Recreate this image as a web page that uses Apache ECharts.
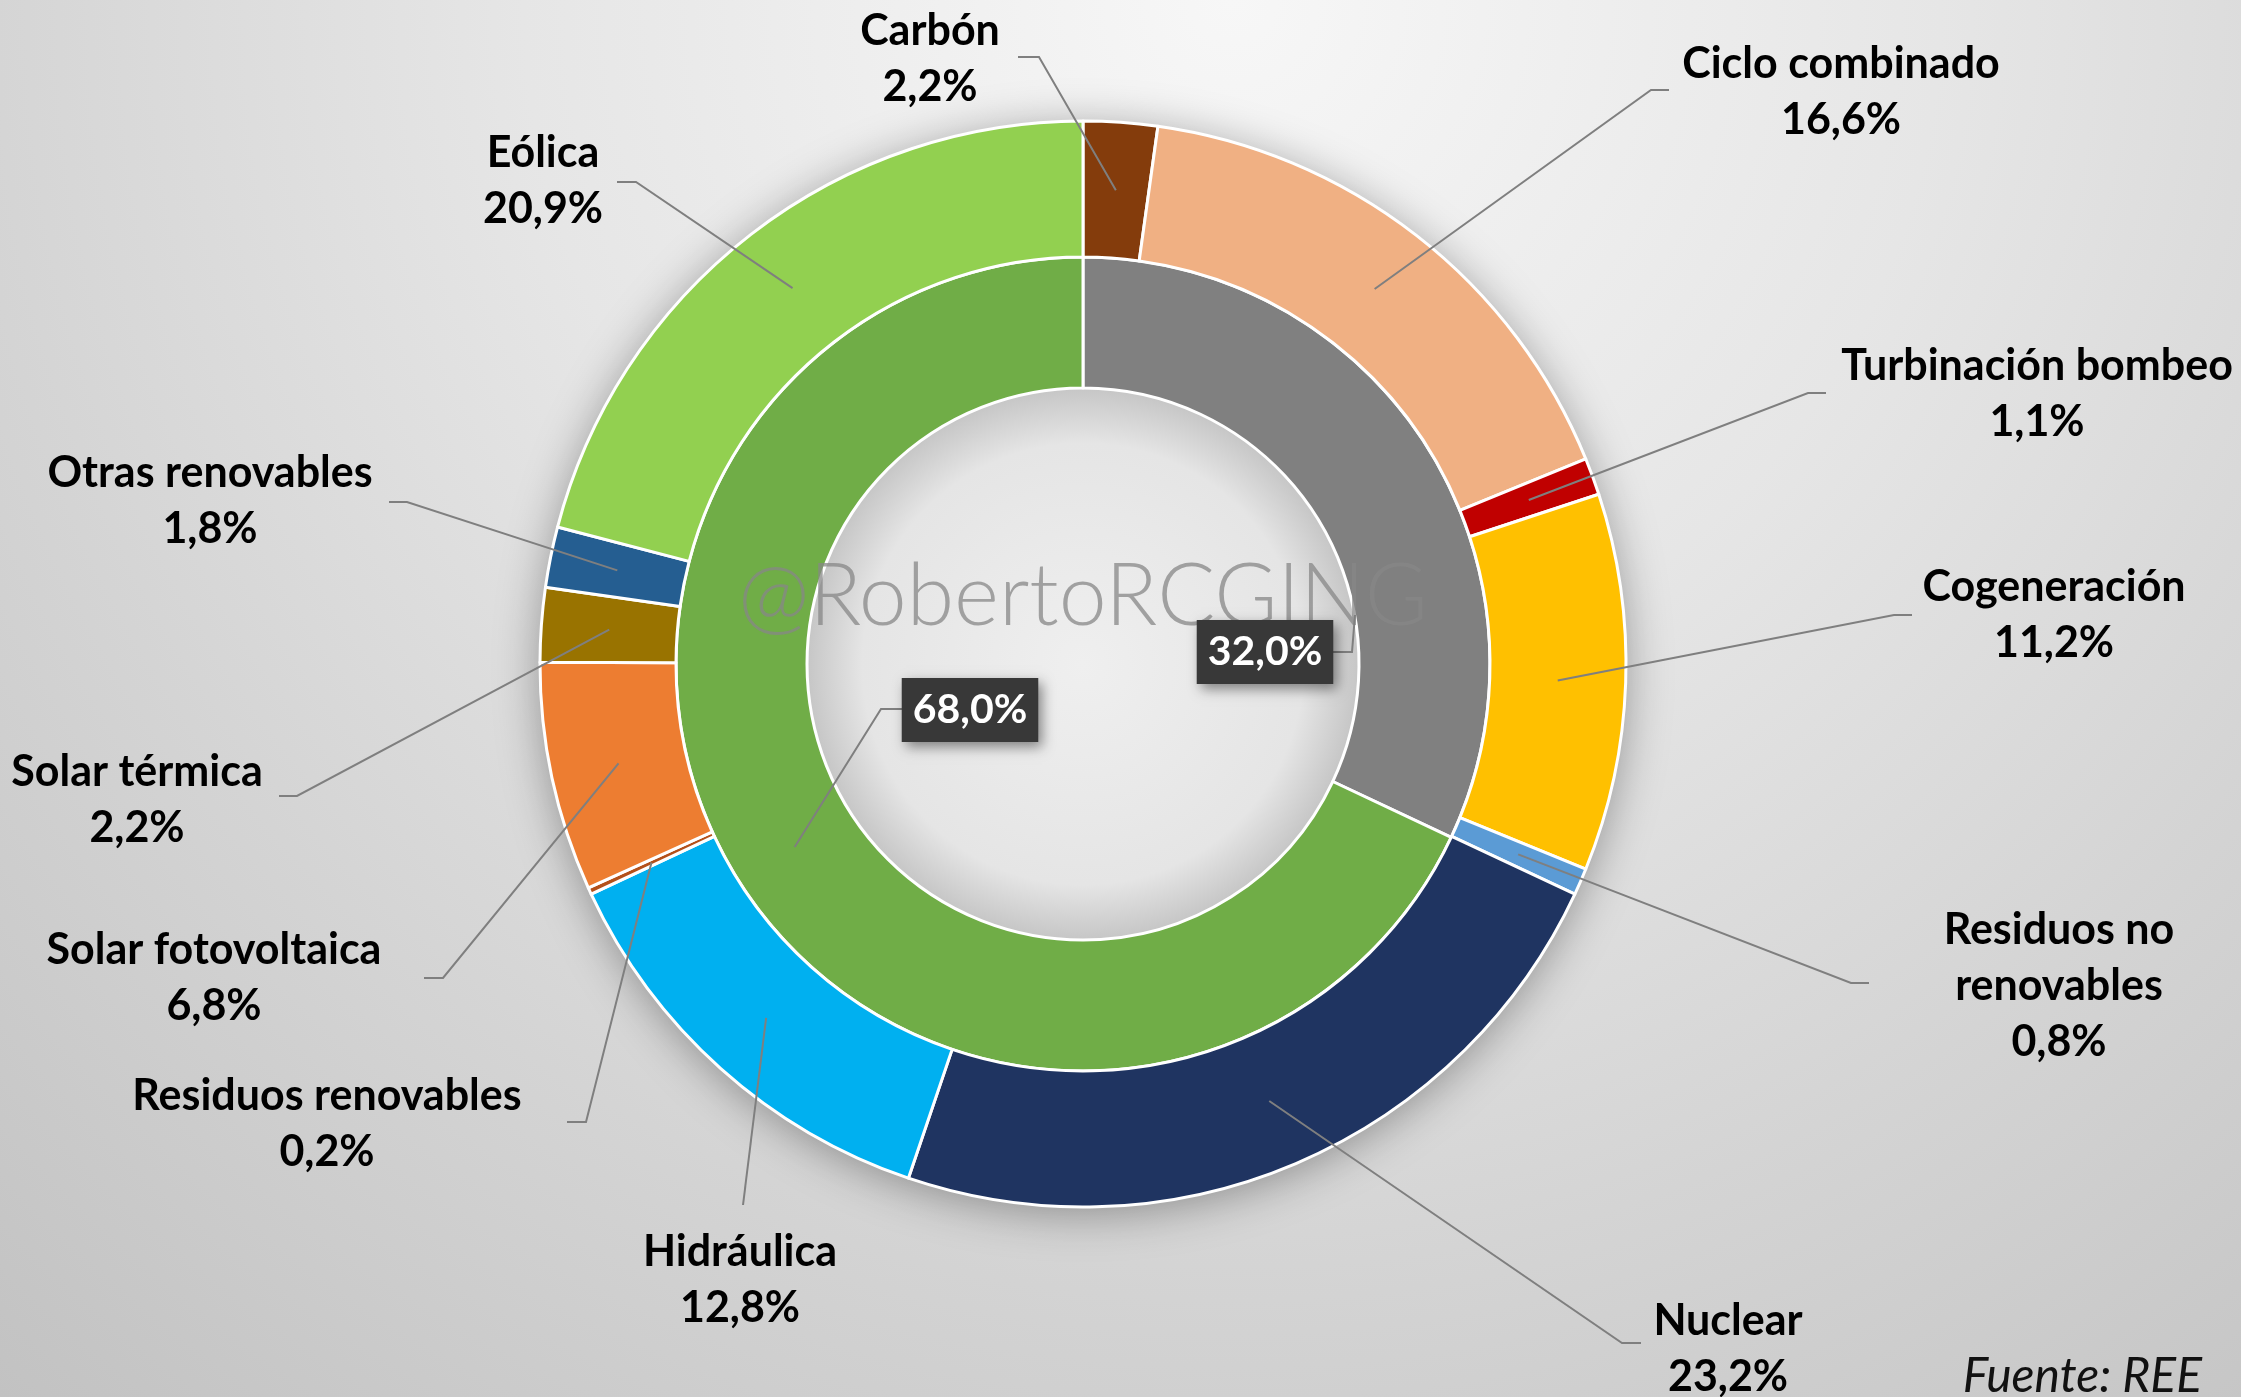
<!DOCTYPE html>
<html>
<head>
<meta charset="utf-8">
<script src="https://cdn.jsdelivr.net/npm/echarts@6/dist/echarts.min.js"></script>
<style>
    html, body { margin: 0; padding: 0; }
    body {
        width: 2241px; height: 1397px; overflow: hidden;
        background: radial-gradient(circle at 55% 0%, #f7f7f7 0%, #e6e6e6 38%, #d4d4d4 68%, #c2c2c2 100%);
    }
    #main { width: 2241px; height: 1397px; }
</style>
</head>
<body>
<div id="main"></div>
<script>
// datos (% generación)
var fuentes = ['Carbón', 'Ciclo combinado', 'Turbinación bombeo', 'Cogeneración', 'Residuos no renovables',
    'Nuclear', 'Hidráulica', 'Residuos renovables', 'Solar fotovoltaica', 'Solar térmica', 'Otras renovables', 'Eólica'];
var porcentajes = [2.2, 16.6, 1.1, 11.2, 0.8, 23.2, 12.8, 0.2, 6.8, 2.2, 1.8, 20.9];
var grupos = ['Emisora de CO2', 'Libre de CO2'];
var gruposPct = [32.0, 68.0];

var colores = ['#843c0c', '#f0b083', '#c00000', '#ffc000', '#5b9bd5', '#1f3461',
    '#00b0f0', '#b4501a', '#ed7d31', '#997300', '#255e91', '#92d050'];
var gruposColores = ['#808080', '#70ad47'];

// geometria
var cx = 1083, cy = 664;
var rHole = 276, rMid = 407, rOut = 543;

// centro de cada etiqueta y puntos de la guia (despues del punto en el sector)
var posEtiquetas = [[930, 59], [1841, 92], [2037, 394], [2054, 615], [2059, 986], [1728, 1349],
    [740, 1280], [327, 1124], [214, 978], [137, 800], [210, 501], [543, 181]];
var guias = [
    [[1039, 57], [1018, 57]],
    [[1651, 90], [1669, 90]],
    [[1808, 393], [1826, 393]],
    [[1894, 615], [1912, 615]],
    [[1851, 983], [1869, 983]],
    [[1622, 1343], [1641, 1343]],
    [[743, 1205]],
    [[586, 1122], [567, 1122]],
    [[443, 978], [424, 978]],
    [[297, 796], [279, 796]],
    [[407, 502], [389, 502]],
    [[636, 182], [617, 182]]
];
var posGrupos = [[1265, 652], [970, 710]];
var guiasGrupos = [
    [[1355, 615], [1352, 652], [1333, 652]],
    [null, [881, 709], [903, 709]]
];

function anchorAt(vals, idx, r) {
    var total = 0, before = 0;
    for (var i = 0; i < vals.length; i++) {
        total += vals[i];
        if (i < idx) before += vals[i];
    }
    var a = (before + vals[idx] / 2) / total * Math.PI * 2;
    return [cx + r * Math.sin(a), cy - r * Math.cos(a)];
}

function pct(v) {
    return v.toFixed(1).replace('.', ',') + '%';
}

var lineaGuia = { show: true, length: 10, length2: 10, smooth: false, lineStyle: { color: '#7f7f7f', width: 2 } };

var chart = echarts.init(document.getElementById('main'));

var option = {
    animation: false,
    graphic: [
        {
            type: 'circle', z: 0, silent: true,
            shape: { cx: cx, cy: cy, r: rOut },
            style: { fill: '#ffffff', shadowBlur: 45, shadowColor: 'rgba(0,0,0,0.35)', shadowOffsetY: 6 }
        },
        {
            type: 'circle', z: 1, silent: true,
            shape: { cx: cx, cy: cy, r: rHole },
            style: {
                fill: {
                    type: 'radial', x: 0.5, y: 0.5, r: 0.5,
                    colorStops: [
                        { offset: 0, color: '#efefef' },
                        { offset: 0.8, color: '#e5e5e5' },
                        { offset: 1, color: '#c6c6c6' }
                    ]
                }
            }
        },
        {
            type: 'text', z: 3, silent: true, x: cx, y: 597,
            style: {
                text: '@RobertoRCGING', fill: 'rgba(135,135,135,0.75)',
                fontFamily: 'Lato', fontWeight: 300, fontSize: 86,
                align: 'center', verticalAlign: 'middle', textAlign: 'center', textVerticalAlign: 'middle'
            }
        },
        {
            type: 'text', z: 3, silent: true, x: 2202, y: 1377,
            style: {
                text: 'Fuente: REE', fill: '#111',
                fontFamily: 'Lato', fontStyle: 'italic', fontSize: 48,
                align: 'right', verticalAlign: 'middle', textAlign: 'right', textVerticalAlign: 'middle'
            }
        }
    ],
    series: [
        {
            // anillo interior
            type: 'pie', z: 2,
            center: [cx, cy], radius: [rHole, rMid],
            startAngle: 90, avoidLabelOverlap: false,
            itemStyle: { borderColor: '#fff', borderWidth: 3 },
            label: { show: false }, labelLine: { show: false },
            data: grupos.map(function (n, i) {
                return { name: n, value: gruposPct[i], itemStyle: { color: gruposColores[i] } };
            })
        },
        {
            // anillo exterior
            type: 'pie', z: 2,
            center: [cx, cy], radius: [rMid, rOut],
            startAngle: 90, avoidLabelOverlap: false,
            itemStyle: { borderColor: '#fff', borderWidth: 3 },
            label: { show: false }, labelLine: { show: false },
            data: fuentes.map(function (n, i) {
                return { name: n, value: porcentajes[i], itemStyle: { color: colores[i] } };
            })
        },
        {
            // etiquetas del anillo exterior (guias por encima de los sectores)
            type: 'pie', z: 4, silent: true,
            center: [cx, cy], radius: [rMid, rOut],
            startAngle: 90, avoidLabelOverlap: false,
            itemStyle: { color: 'rgba(0,0,0,0)', borderWidth: 0 },
            label: {
                show: true, position: 'outside',
                fontFamily: 'Lato', fontWeight: 'bold', fontSize: 43, lineHeight: 56, color: '#000',
                formatter: function (p) {
                    return p.name.replace('Residuos no ', 'Residuos no\n') + '\n' + pct(p.value);
                }
            },
            labelLine: lineaGuia,
            labelLayout: function (p) {
                var i = p.dataIndex;
                return {
                    x: posEtiquetas[i][0], y: posEtiquetas[i][1], align: 'center', verticalAlign: 'middle',
                    labelLinePoints: [anchorAt(porcentajes, i, (rMid + rOut) / 2)].concat(guias[i])
                };
            },
            data: fuentes.map(function (n, i) {
                return { name: n, value: porcentajes[i] };
            })
        },
        {
            // etiquetas del anillo interior (encima de la marca de agua)
            type: 'pie', z: 4, silent: true,
            center: [cx, cy], radius: [rHole, rMid],
            startAngle: 90, avoidLabelOverlap: false,
            itemStyle: { color: 'rgba(0,0,0,0)', borderWidth: 0 },
            label: {
                show: true, position: 'outside',
                fontFamily: 'Lato', fontWeight: 'bold', fontSize: 41, lineHeight: 44, color: '#fff',
                backgroundColor: '#383838', padding: [10, 11],
                shadowBlur: 12, shadowColor: 'rgba(0,0,0,0.45)', shadowOffsetX: 4, shadowOffsetY: 5,
                formatter: function (p) { return pct(p.value); }
            },
            labelLine: lineaGuia,
            labelLayout: function (p) {
                var i = p.dataIndex;
                var pts = guiasGrupos[i].slice();
                if (!pts[0]) pts[0] = anchorAt(gruposPct, i, (rHole + rMid) / 2);
                return {
                    x: posGrupos[i][0], y: posGrupos[i][1], align: 'center', verticalAlign: 'middle',
                    labelLinePoints: pts
                };
            },
            data: grupos.map(function (n, i) {
                return { name: n, value: gruposPct[i] };
            })
        }
    ]
};

chart.setOption(option);
</script>
</body>
</html>
